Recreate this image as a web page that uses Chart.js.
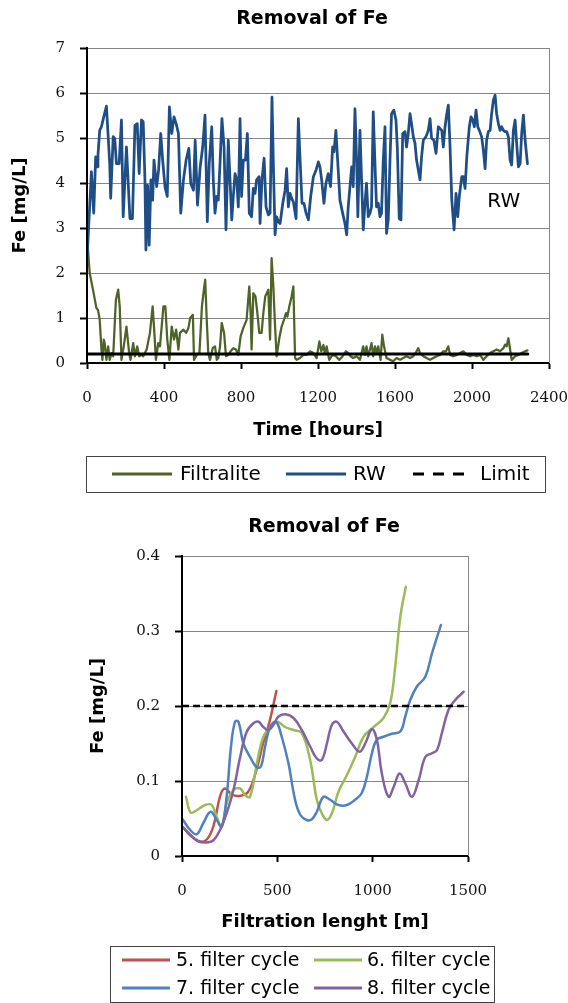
<!DOCTYPE html>
<html><head><meta charset="utf-8">
<script src="https://cdn.jsdelivr.net/npm/chart.js@4.4.1/dist/chart.umd.min.js"></script>
<style>
html,body{margin:0;padding:0;background:#fff;}
canvas{position:absolute;left:0;}
#c1{top:0;}
#c2{top:500px;}
</style></head><body>
<canvas id="c1" width="568" height="500"></canvas>
<canvas id="c2" width="568" height="503"></canvas>
<script>
// ---------- data: top chart ----------
const chartTitle = 'Removal of Fe';
const yAxisTitle = 'Fe [mg/L]';
const topXTitle = 'Time [hours]';
const topSeriesLabels = ['Filtralite', 'RW', 'Limit'];
const topXTicks = [0, 400, 800, 1200, 1600, 2000, 2400];
const topYTicks = [0, 1, 2, 3, 4, 5, 6, 7];

const filtraliteHours = [0,14,31,49,57,66,75,80,87,92,101,110,118,127,136,150,162,170,179,191,205,219,226,240,249,261,271,283,292,310,327,341,350,358,370,379,397,407,417,428,440,452,463,475,483,501,515,527,536,550,556,570,584,597,605,614,622,630,639,653,665,674,682,691,700,712,722,734,746,760,774,786,798,812,829,843,850,855,864,875,885,895,907,916,926,942,951,959,968,977,985,999,1011,1023,1034,1041,1051,1063,1072,1081,1089,1107,1124,1141,1159,1176,1193,1207,1217,1228,1236,1245,1258,1276,1293,1310,1328,1345,1357,1369,1383,1401,1418,1435,1444,1452,1461,1470,1478,1487,1496,1504,1513,1525,1534,1543,1556,1574,1591,1608,1626,1643,1660,1678,1695,1712,1721,1730,1747,1764,1782,1799,1816,1834,1851,1865,1877,1886,1903,1921,1938,1955,1973,1990,2007,2025,2042,2059,2076,2094,2111,2128,2146,2163,2172,2180,2189,2198,2206,2224,2241,2258,2276,2288];
const filtraliteFe = [2.81,2.00,1.63,1.22,1.18,0.96,0.30,0.07,0.52,0.44,0.07,0.37,0.07,0.22,0.15,1.40,1.63,1.26,0.07,0.37,0.81,0.22,0.07,0.44,0.15,0.37,0.15,0.18,0.15,0.30,0.67,1.26,0.67,0.07,0.44,0.37,1.26,1.26,0.52,0.07,0.81,0.52,0.74,0.30,0.67,0.74,0.67,0.78,1.00,1.07,0.07,0.18,0.22,1.26,1.55,1.85,0.96,0.22,0.07,0.33,0.37,0.07,0.11,0.37,0.89,0.67,0.15,0.18,0.26,0.33,0.30,0.18,0.59,0.78,0.96,1.70,1.11,0.30,1.55,1.48,1.11,0.67,0.67,1.11,1.48,1.63,0.52,2.33,1.70,0.81,0.15,0.55,0.81,0.96,1.11,1.03,1.26,1.48,1.70,0.11,0.07,0.11,0.18,0.18,0.26,0.22,0.11,0.48,0.26,0.40,0.20,0.37,0.07,0.18,0.15,0.07,0.15,0.26,0.22,0.15,0.11,0.15,0.07,0.37,0.18,0.37,0.15,0.30,0.44,0.15,0.37,0.22,0.37,0.07,0.63,0.37,0.11,0.07,0.04,0.11,0.07,0.11,0.15,0.11,0.15,0.26,0.33,0.22,0.15,0.11,0.07,0.11,0.15,0.18,0.26,0.26,0.37,0.18,0.15,0.18,0.22,0.26,0.18,0.15,0.18,0.15,0.18,0.07,0.15,0.22,0.26,0.30,0.26,0.33,0.41,0.37,0.55,0.30,0.07,0.15,0.18,0.22,0.26,0.28];

const rwHours = [0,23,35,45,52,57,66,75,87,101,118,123,136,144,153,167,179,188,205,223,236,249,261,271,283,292,301,306,315,323,332,341,348,362,372,383,393,405,417,428,440,452,463,475,487,501,515,529,539,553,562,574,588,601,613,625,635,648,656,665,674,682,691,701,712,722,734,743,752,760,769,778,786,795,803,812,823,833,843,855,864,873,881,894,899,909,920,930,942,951,961,968,977,985,994,1003,1017,1029,1037,1046,1055,1063,1072,1086,1098,1107,1117,1127,1138,1150,1162,1176,1190,1202,1210,1219,1231,1241,1253,1265,1276,1283,1293,1305,1314,1328,1340,1349,1357,1366,1375,1383,1392,1401,1407,1418,1427,1435,1444,1452,1461,1470,1478,1487,1496,1504,1513,1522,1530,1539,1548,1556,1565,1574,1582,1594,1605,1612,1622,1631,1640,1652,1660,1669,1678,1686,1695,1704,1712,1721,1730,1738,1747,1761,1773,1782,1790,1802,1813,1825,1843,1851,1860,1869,1877,1886,1895,1907,1917,1926,1934,1947,1955,1964,1973,1986,1995,2004,2012,2021,2030,2038,2050,2059,2068,2076,2085,2094,2102,2111,2120,2128,2137,2146,2154,2163,2172,2180,2189,2198,2206,2215,2224,2232,2241,2250,2258,2267,2276,2288];
const rwFe = [2.29,4.25,3.33,4.58,4.36,4.62,5.17,5.25,5.47,5.71,4.43,3.66,5.03,4.99,4.43,4.43,5.40,3.25,4.80,3.21,3.21,5.28,5.32,4.21,5.40,5.36,4.07,2.51,3.95,2.62,4.07,3.62,4.51,3.92,4.29,5.10,4.51,3.92,3.70,5.69,5.10,5.47,5.32,5.10,3.33,4.07,4.51,4.77,3.99,3.84,4.95,3.51,4.36,4.80,5.51,3.14,4.43,5.25,4.07,3.33,3.70,3.62,4.43,5.43,4.80,2.96,4.95,4.07,3.18,3.70,4.21,4.07,3.47,5.43,3.70,4.51,4.51,5.10,3.33,3.25,3.88,3.77,4.07,4.14,3.10,4.07,4.55,3.47,3.29,3.33,5.91,4.43,2.85,3.25,3.14,3.10,3.55,3.84,4.32,3.47,3.77,3.66,3.58,3.21,5.43,4.51,3.55,3.55,3.33,3.18,3.70,4.14,4.29,4.47,4.36,4.07,3.55,3.99,4.21,3.92,4.80,4.69,5.17,4.29,3.62,3.33,3.10,2.85,3.47,3.92,4.36,3.92,5.65,4.43,3.25,5.17,3.99,2.96,3.55,3.99,3.25,3.33,3.47,5.58,4.43,3.47,3.55,3.25,3.33,4.51,5.25,2.88,3.18,4.51,5.54,5.62,5.40,4.80,3.21,3.18,5.10,5.14,4.80,5.10,5.54,5.32,5.03,4.88,4.51,4.29,4.07,4.58,4.95,5.03,5.17,5.43,4.99,4.95,4.66,5.25,5.17,4.80,5.25,5.54,5.73,4.80,3.62,2.96,3.77,3.25,3.70,4.14,4.14,3.88,4.58,5.25,5.47,5.40,5.25,5.62,5.25,5.17,5.03,4.73,4.32,4.95,5.14,5.17,5.54,5.84,5.95,5.54,5.32,5.17,5.25,5.17,5.14,5.14,5.03,4.51,4.40,5.17,5.40,4.88,4.36,4.43,5.10,5.51,4.95,4.43];

const limitHours = [0, 2290];
const limitFe = [0.2, 0.2];
const rwNote = { text: 'RW', hours: 2165, fe: 3.59 };

// ---------- data: bottom chart ----------
const bottomXTitle = 'Filtration lenght [m]';
const cycleLabels = ['5. filter cycle', '6. filter cycle', '7. filter cycle', '8. filter cycle'];
const bottomXTicks = [0, 500, 1000, 1500];
const bottomYTicks = [0, 0.1, 0.2, 0.3, 0.4];
const bottomYTickLabels = ['0', '0.1', '0.2', '0.3', '0.4'];

const cycle5Length = [0,45,90,130,165,200,225,260,300,345,385,425,460,495];
const cycle5Fe = [0.040,0.028,0.019,0.022,0.040,0.080,0.090,0.082,0.080,0.085,0.110,0.150,0.180,0.220];
const cycle6Length = [21,45,77,121,156,182,208,234,270,305,331,357,396,427,462,500,541,585,628,672,707,733,760,786,821,865,908,952,1005,1057,1092,1118,1145,1174];
const cycle6Fe = [0.079,0.058,0.061,0.068,0.068,0.052,0.039,0.070,0.088,0.090,0.081,0.079,0.128,0.159,0.172,0.179,0.172,0.168,0.164,0.128,0.075,0.057,0.048,0.057,0.086,0.108,0.132,0.159,0.172,0.184,0.204,0.252,0.319,0.359];
const cycle7Length = [3,42,77,112,150,182,208,234,257,278,296,322,357,389,413,436,462,493,523,558,593,620,654,681,707,742,777,821,865,908,943,970,996,1022,1057,1101,1145,1171,1197,1232,1276,1311,1358];
const cycle7Fe = [0.049,0.035,0.029,0.044,0.059,0.048,0.039,0.079,0.146,0.179,0.179,0.150,0.132,0.119,0.119,0.146,0.172,0.179,0.159,0.124,0.075,0.055,0.048,0.049,0.059,0.079,0.075,0.068,0.068,0.075,0.084,0.106,0.137,0.155,0.159,0.163,0.166,0.186,0.208,0.226,0.239,0.270,0.308];
const cycle8Length = [3,42,86,130,165,200,234,270,305,340,375,401,427,453,480,506,541,585,628,672,707,733,760,786,812,847,891,931,961,996,1022,1048,1083,1110,1141,1171,1206,1241,1276,1311,1337,1363,1398,1433,1477];
const cycle8Fe = [0.039,0.028,0.020,0.018,0.021,0.035,0.057,0.088,0.132,0.166,0.177,0.179,0.172,0.168,0.175,0.186,0.189,0.184,0.168,0.146,0.130,0.128,0.150,0.175,0.179,0.166,0.150,0.139,0.150,0.169,0.155,0.110,0.079,0.092,0.110,0.097,0.079,0.101,0.132,0.137,0.141,0.164,0.195,0.208,0.219];
const bottomLimitLength = [0, 1500];
const bottomLimitFe = [0.2, 0.2];

// ---------- helpers ----------
const pts = (xs, ys) => xs.map((x, i) => ({ x: x, y: ys[i] }));
const tickFont = { family: 'DejaVu Serif', size: 15 };
const axisTitleFont = { family: 'DejaVu Sans', size: 18, weight: 'bold' };

function decor(cfg) {
  return {
    id: 'decor',
    afterDraw(chart) {
      const ctx = chart.ctx, a = chart.chartArea;
      ctx.save();
      // right border of the plot area
      ctx.strokeStyle = '#868686'; ctx.lineWidth = 1;
      const rx = Math.round(a.right) + 0.5;
      ctx.beginPath(); ctx.moveTo(rx, a.top); ctx.lineTo(rx, a.bottom); ctx.stroke();
      // chart title
      ctx.fillStyle = '#000';
      ctx.font = 'bold 19px "DejaVu Sans"';
      ctx.textAlign = 'center'; ctx.textBaseline = 'middle';
      ctx.fillText(cfg.title, cfg.titleX, cfg.titleY);
      // legend
      const b = cfg.box;
      ctx.strokeStyle = '#444'; ctx.lineWidth = 1;
      ctx.strokeRect(b[0] + 0.5, b[1] + 0.5, b[2], b[3]);
      ctx.font = cfg.legendFont; ctx.textAlign = 'left';
      cfg.items.forEach(it => {
        const ds = chart.data.datasets[it.ds];
        ctx.strokeStyle = ds.borderColor; ctx.lineWidth = 3;
        ctx.setLineDash(it.dash || []);
        ctx.beginPath(); ctx.moveTo(it.x0, it.y); ctx.lineTo(it.x1, it.y); ctx.stroke();
        ctx.setLineDash([]);
        ctx.fillStyle = '#000';
        ctx.fillText(ds.label, it.tx, it.y + 1);
      });
      // in-plot note
      if (cfg.note) {
        ctx.font = '20px "DejaVu Sans"'; ctx.textAlign = 'center';
        ctx.fillText(cfg.note.text, chart.scales.x.getPixelForValue(cfg.note.hours), chart.scales.y.getPixelForValue(cfg.note.fe));
      }
      ctx.restore();
    }
  };
}

function scaleOpts(ticks, labels, isY, title, titlePad, fitSize) {
  return {
    type: 'linear',
    min: ticks[0], max: ticks[ticks.length - 1],
    afterBuildTicks: s => { s.ticks = ticks.map(v => ({ value: v })); },
    grid: isY
      ? { color: '#868686', lineWidth: 1, tickLength: 7, tickColor: '#000', tickWidth: 2 }
      : { drawOnChartArea: false, tickLength: 6, tickColor: '#000', tickWidth: 2 },
    border: { color: '#000', width: 2, z: 1 },
    ticks: {
      font: tickFont, color: '#111', padding: isY ? 15 : 20, maxRotation: 0, autoSkip: false,
      callback: (v, i) => labels ? labels[i] : String(v)
    },
    title: { display: true, text: title, font: axisTitleFont, color: '#000', padding: titlePad },
    afterFit: s => {
      if (isY) s.width = fitSize; else s.height = fitSize;
      s.paddingLeft = 0; s.paddingRight = 0; s.paddingTop = 0; s.paddingBottom = 0;
    }
  };
}

const lineStyle = { pointRadius: 0, borderJoinStyle: 'round', borderCapStyle: 'round' };

// ---------- top chart ----------
new Chart(document.getElementById('c1'), {
  type: 'line',
  data: {
    datasets: [
      Object.assign({ label: topSeriesLabels[0], data: pts(filtraliteHours, filtraliteFe), borderColor: '#4F6228', borderWidth: 2.25, tension: 0, order: 2 }, lineStyle),
      Object.assign({ label: topSeriesLabels[1], data: pts(rwHours, rwFe), borderColor: '#1F4E86', borderWidth: 2.75, tension: 0, order: 1 }, lineStyle),
      Object.assign({ label: topSeriesLabels[2], data: pts(limitHours, limitFe), borderColor: '#000', borderWidth: 3, tension: 0, order: 0 }, lineStyle)
    ]
  },
  options: {
    responsive: false, animation: false, devicePixelRatio: 1,
    layout: { padding: { left: 0, right: 19, top: 48, bottom: 59 } },
    plugins: { legend: { display: false }, title: { display: false }, tooltip: { enabled: false } },
    scales: {
      x: scaleOpts(topXTicks, null, false, topXTitle, { top: 0, bottom: 0 }, 78),
      y: scaleOpts(topYTicks, null, true, yAxisTitle, { top: 10, bottom: 0 }, 87)
    }
  },
  plugins: [decor({
    title: chartTitle, titleX: 312, titleY: 19,
    box: [86, 456, 459, 36], legendFont: '20px "DejaVu Sans"',
    items: [
      { ds: 0, x0: 112, x1: 172, tx: 180, y: 474 },
      { ds: 1, x0: 286, x1: 346, tx: 353, y: 474 },
      { ds: 2, x0: 413, x1: 465, tx: 480, y: 474, dash: [11, 9] }
    ],
    note: rwNote
  })]
});

// ---------- bottom chart ----------
const cycleColors = ['#C0504D', '#9BBB59', '#4F81BD', '#8064A2'];
new Chart(document.getElementById('c2'), {
  type: 'line',
  data: {
    datasets: [
      Object.assign({ label: cycleLabels[0], data: pts(cycle5Length, cycle5Fe), borderColor: cycleColors[0], borderWidth: 2.5, tension: 0.4, order: 4 }, lineStyle),
      Object.assign({ label: cycleLabels[1], data: pts(cycle6Length, cycle6Fe), borderColor: cycleColors[1], borderWidth: 2.5, tension: 0.4, order: 3 }, lineStyle),
      Object.assign({ label: cycleLabels[2], data: pts(cycle7Length, cycle7Fe), borderColor: cycleColors[2], borderWidth: 2.5, tension: 0.4, order: 2 }, lineStyle),
      Object.assign({ label: cycleLabels[3], data: pts(cycle8Length, cycle8Fe), borderColor: cycleColors[3], borderWidth: 2.5, tension: 0.4, order: 1 }, lineStyle),
      { label: 'Limit', data: pts(bottomLimitLength, bottomLimitFe), borderColor: '#000', borderWidth: 2.5, borderDash: [7, 4], pointRadius: 0, tension: 0, order: 0 }
    ]
  },
  options: {
    responsive: false, animation: false, devicePixelRatio: 1,
    layout: { padding: { left: 80, right: 100, top: 56, bottom: 69 } },
    plugins: { legend: { display: false }, title: { display: false }, tooltip: { enabled: false } },
    scales: {
      x: scaleOpts(bottomXTicks, null, false, bottomXTitle, { top: 0, bottom: 1 }, 78),
      y: scaleOpts(bottomYTicks, bottomYTickLabels, true, yAxisTitle, { top: 8, bottom: 0 }, 102)
    }
  },
  plugins: [decor({
    title: chartTitle, titleX: 324, titleY: 27,
    box: [110, 446, 384, 56], legendFont: '19px "DejaVu Sans"',
    items: [
      { ds: 0, x0: 122, x1: 170, tx: 176, y: 460 },
      { ds: 1, x0: 314, x1: 362, tx: 367, y: 460 },
      { ds: 2, x0: 122, x1: 170, tx: 176, y: 488 },
      { ds: 3, x0: 314, x1: 362, tx: 367, y: 488 }
    ]
  })]
});
</script>
</body></html>
